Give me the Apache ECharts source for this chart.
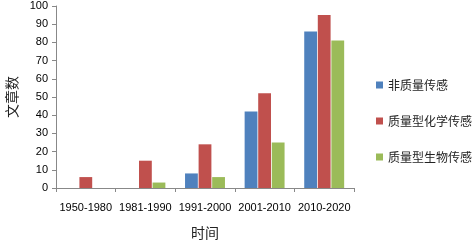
<!DOCTYPE html>
<html>
<head>
<meta charset="utf-8">
<script src="https://cdn.jsdelivr.net/npm/echarts@6/dist/echarts.min.js"></script>
<style>
  html, body { margin: 0; padding: 0; background: #fff; }
  #chart { width: 472px; height: 243px; }
</style>
</head>
<body>
<div id="chart"></div>
<script>
const categories = ['1950-1980', '1981-1990', '1991-2000', '2001-2010', '2010-2020'];
const nonMass = [0, 0, 8, 42, 86];
const massChem = [6, 15, 24, 52, 95];
const massBio = [0, 3, 6, 25, 81];
const seriesNames = ['非质量传感', '质量型化学传感', '质量型生物传感'];

const chart = echarts.init(document.getElementById('chart'));

chart.setOption({
  animation: false,
  grid: { left: 56, right: 118, top: 6, bottom: 55, outerBoundsMode: 'none' },
  legend: {
    orient: 'vertical',
    left: 371,
    top: 74,
    itemWidth: 7,
    itemHeight: 7,
    itemGap: 24,
    icon: 'rect',
    textStyle: { fontFamily: 'Noto Sans CJK SC', fontSize: 12, color: '#222' },
    data: seriesNames
  },
  xAxis: {
    type: 'category',
    data: categories,
    name: '时间',
    nameLocation: 'middle',
    nameGap: 38,
    nameTextStyle: { fontFamily: 'Noto Sans CJK SC', fontSize: 14, color: '#222' },
    axisLine: { lineStyle: { color: '#888' } },
    axisTick: { show: true, length: 4, lineStyle: { color: '#888' } },
    axisLabel: { interval: 0, fontFamily: 'Liberation Sans', fontSize: 11, color: '#000', margin: 14 }
  },
  yAxis: {
    type: 'value',
    min: 0,
    max: 100,
    interval: 10,
    name: '文章数',
    nameLocation: 'middle',
    nameGap: 37,
    nameRotate: 90,
    nameTextStyle: { fontFamily: 'Noto Sans CJK SC', fontSize: 14, color: '#222' },
    axisLine: { show: true, lineStyle: { color: '#888' } },
    axisTick: { show: true, length: 4, lineStyle: { color: '#888' } },
    splitLine: { show: false },
    axisLabel: { fontFamily: 'Liberation Sans', fontSize: 11, color: '#000', margin: 8 }
  },
  series: [
    { name: seriesNames[0], type: 'bar', data: nonMass, barGap: '6%', barCategoryGap: '33%', itemStyle: { color: '#4F81BD' } },
    { name: seriesNames[1], type: 'bar', data: massChem, barGap: '6%', barCategoryGap: '33%', itemStyle: { color: '#C0504D' } },
    { name: seriesNames[2], type: 'bar', data: massBio, barGap: '6%', barCategoryGap: '33%', itemStyle: { color: '#9BBB59' } }
  ]
});
</script>
</body>
</html>
